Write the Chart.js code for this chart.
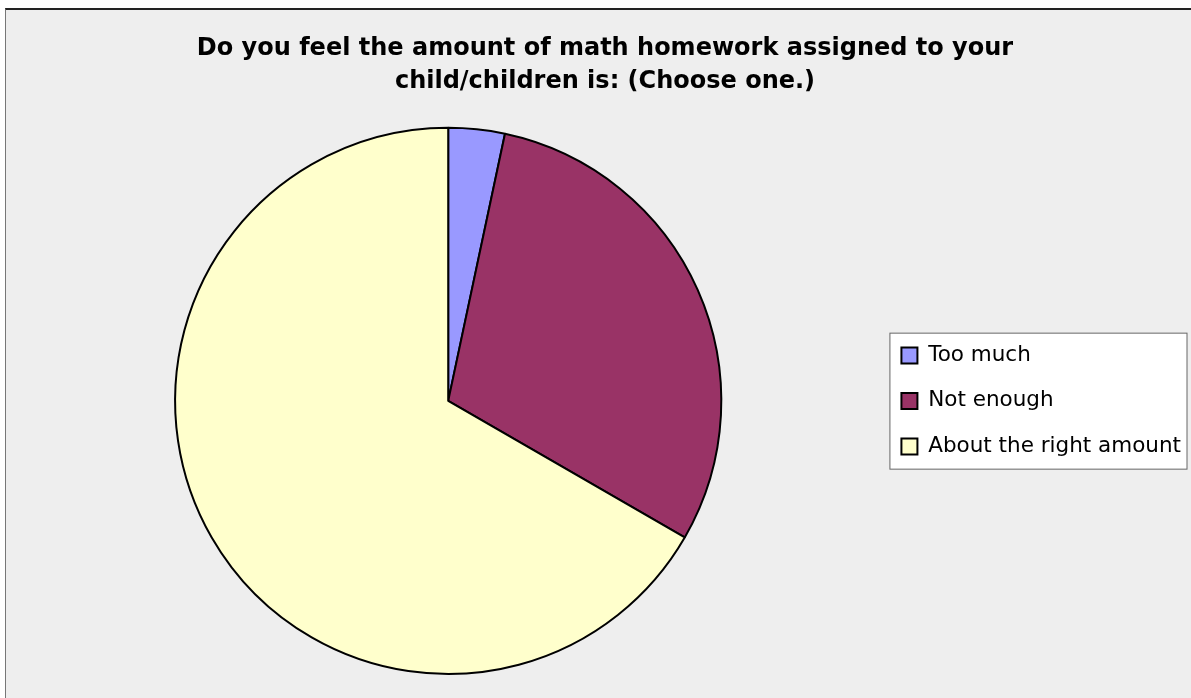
<!DOCTYPE html>
<html>
<head>
<meta charset="utf-8">
<script src="https://cdn.jsdelivr.net/npm/chart.js@4.4.1/dist/chart.umd.min.js"></script>
<style>
  html, body { margin: 0; padding: 0; background: #ffffff; }
  .frame {
    position: absolute; left: 5px; top: 8px; width: 1186px; height: 690px;
    background: #eeeeee; border-top: 2px solid #222; border-left: 1px solid #777;
  }
  .frame canvas { display: block; }
</style>
</head>
<body>
<div class="frame"><canvas id="chart0" width="1185" height="688"></canvas></div>
<script>
const titleLines = ['Do you feel the amount of math homework assigned to your', 'child/children is: (Choose one.)'];
const answers = ['Too much', 'Not enough', 'About the right amount'];
const responses = [1, 9, 20];
const sliceColors = ['#9999ff', '#993366', '#ffffcc'];

// legend frame, Excel style (white box with grey outline)
function legendRect(chart) {
  const hb = chart.legend.legendHitBoxes;
  const first = hb[0], last = hb[hb.length - 1];
  const x0 = first.left - 11.5, y0 = first.top - 11.5;
  return [x0, y0, chart.width - 4 - x0, last.top + last.height + 12 - y0];
}
const legendBox = {
  id: 'legendBox',
  beforeDraw(chart) {
    if (!chart.legend || !chart.legend.legendHitBoxes.length) return;
    const ctx = chart.ctx;
    ctx.save();
    ctx.fillStyle = '#fff';
    ctx.fillRect(...legendRect(chart));
    ctx.restore();
  },
  afterDraw(chart) {
    if (!chart.legend || !chart.legend.legendHitBoxes.length) return;
    const ctx = chart.ctx;
    ctx.save();
    ctx.strokeStyle = '#666';
    ctx.lineWidth = 1;
    ctx.strokeRect(...legendRect(chart));
    ctx.restore();
  }
};

const ctx = document.getElementById('chart0').getContext('2d');
const chart = new Chart(ctx, {
  type: 'pie',
  data: {
    labels: answers,
    datasets: [{
      data: responses,
      backgroundColor: sliceColors,
      borderColor: '#000',
      borderWidth: 2
    }]
  },
  plugins: [legendBox],
  options: {
    responsive: false,
    animation: false,
    layout: { padding: { left: 13, right: 0, top: 0, bottom: 23 } },
    plugins: {
      title: {
        display: true,
        text: titleLines,
        color: '#000',
        font: { family: 'DejaVu Sans', size: 24, weight: 'bold', lineHeight: 1.35 },
        padding: { top: 23, bottom: 29 }
      },
      legend: {
        position: 'right',
        fullSize: false,
        labels: {
          color: '#000',
          font: { family: 'DejaVu Sans', size: 21.5 },
          boxWidth: 16,
          boxHeight: 16,
          padding: 24
        }
      },
      tooltip: { enabled: false }
    }
  }
});
</script>
</body>
</html>
